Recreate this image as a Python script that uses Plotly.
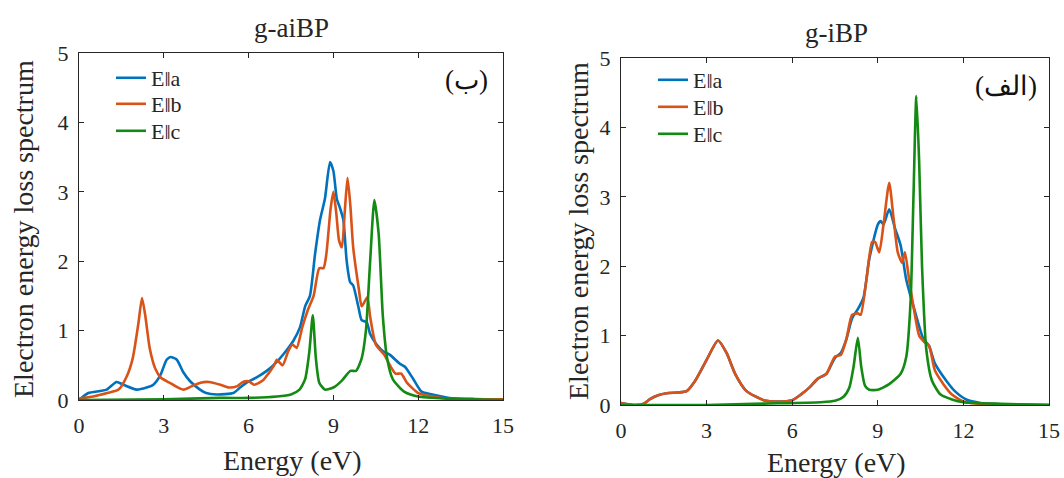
import plotly.graph_objects as go

# ---------------- data: g-aiBP (left panel) ----------------
ai_a_E = [0, 0.33, 0.74, 0.98, 1.33, 1.57, 2.04, 2.39, 2.63, 2.87, 3.1, 3.24, 3.46, 3.69, 3.93, 4.28, 4.5, 4.87,
          5.46, 5.7, 5.93, 6.3, 6.64, 7.0, 7.35, 7.58, 7.82, 8.0, 8.17, 8.35, 8.53, 8.7, 8.88, 9.0, 9.12, 9.23,
          9.35, 9.47, 9.59, 9.7, 9.88, 10.0, 10.18, 10.3, 10.53, 10.77, 11.0, 11.36, 11.53, 11.83, 12.12, 12.5,
          13.1, 14.0, 15.0]
ai_a_L = [0.0, 0.1, 0.13, 0.15, 0.26, 0.22, 0.15, 0.18, 0.22, 0.35, 0.58, 0.62, 0.58, 0.4, 0.27, 0.15, 0.1, 0.08,
          0.1, 0.18, 0.25, 0.33, 0.42, 0.55, 0.72, 0.85, 1.05, 1.35, 1.5, 2.1, 2.6, 2.9, 3.43, 3.3, 2.9, 2.77,
          2.6, 2.0, 1.7, 1.65, 1.35, 1.15, 1.12, 0.95, 0.8, 0.7, 0.65, 0.52, 0.48, 0.3, 0.12, 0.08,
          0.03, 0.015, 0.01]

ai_b_E = [0, 0.5, 1.0, 1.4, 1.7, 1.9, 2.1, 2.23, 2.35, 2.5, 2.7, 2.9, 3.2, 3.5, 3.7, 4.0, 4.3, 4.6, 5.0, 5.3,
          5.6, 5.8, 6.0, 6.2, 6.5, 6.7, 6.9, 7.0, 7.2, 7.4, 7.55, 7.7, 7.9, 8.1, 8.3, 8.5, 8.65, 8.75, 8.9,
          9.0, 9.1, 9.2, 9.3, 9.4, 9.5, 9.6, 9.7, 9.9, 10.0, 10.2, 10.3, 10.5, 10.8, 11.0, 11.2, 11.4, 11.6,
          12.0, 12.5, 13.0, 14.0, 15.0]
ai_b_L = [0.02, 0.05, 0.1, 0.15, 0.35, 0.6, 1.1, 1.47, 1.2, 0.75, 0.45, 0.32, 0.25, 0.18, 0.15, 0.2, 0.25, 0.26,
          0.22, 0.18, 0.2, 0.26, 0.27, 0.22, 0.28, 0.38, 0.5, 0.58, 0.5, 0.7, 0.8, 0.75, 1.05, 1.3, 1.5, 1.9,
          1.9, 2.1, 2.75, 3.0, 2.7, 2.3, 2.2, 2.7, 3.2, 2.8, 2.2, 1.6, 1.35, 1.48, 1.2, 0.8, 0.65, 0.5, 0.38,
          0.38, 0.25, 0.1, 0.05, 0.02, 0.01, 0.01]

ai_c_E = [0, 3, 5, 6, 7, 7.5, 7.8, 8.0, 8.15, 8.27, 8.38, 8.5, 8.7, 9.0, 9.3, 9.6, 9.8, 10.0, 10.15, 10.3,
          10.45, 10.6, 10.75, 10.9, 11.1, 11.5, 12.0, 13.0, 15.0]
ai_c_L = [0.0, 0.01, 0.03, 0.03, 0.05, 0.08, 0.15, 0.3, 0.7, 1.22, 0.6, 0.25, 0.15, 0.18, 0.28, 0.42, 0.42, 0.6,
          1.0, 2.0, 2.88, 2.4, 1.2, 0.6, 0.3, 0.12, 0.05, 0.02, 0.0]

# ---------------- data: g-iBP (right panel) ----------------
i_b_E = [0, 0.5, 0.8, 1.0, 1.3, 1.6, 2.0, 2.3, 2.6, 3.0, 3.4, 3.7, 4.0, 4.4, 5.0, 5.5, 6.0, 6.3, 6.6, 6.9,
         7.2, 7.5, 7.7, 7.9, 8.1, 8.3, 8.4, 8.6, 8.8, 8.9, 9.05, 9.2, 9.4, 9.55, 9.7, 9.85, 9.95, 10.1, 10.3,
         10.45, 10.65, 10.8, 11.0, 11.3, 11.6, 12.0, 12.5, 13.5, 15.0]
i_b_L = [0.03, 0.0, 0.02, 0.08, 0.14, 0.17, 0.18, 0.2, 0.35, 0.65, 0.93, 0.75, 0.45, 0.2, 0.07, 0.05, 0.07, 0.15,
         0.25, 0.38, 0.45, 0.7, 0.72, 0.95, 1.3, 1.32, 1.3, 1.8, 2.35, 2.35, 2.2, 2.6, 3.2, 2.7, 2.2, 2.05,
         2.2, 1.8, 1.3, 1.0, 0.9, 0.85, 0.5, 0.3, 0.15, 0.05, 0.02, 0.01, 0.0]

i_a_E = [0, 0.5, 0.8, 1.0, 1.3, 1.6, 2.0, 2.3, 2.6, 3.0, 3.4, 3.7, 4.0, 4.4, 5.0, 5.5, 6.0, 6.3, 6.6, 6.9,
         7.2, 7.5, 7.7, 7.9, 8.1, 8.3, 8.5, 8.7, 9.0, 9.1, 9.2, 9.4, 9.6, 9.8, 10.0, 10.3, 10.6, 10.8, 11.0,
         11.4, 11.7, 12.1, 12.6, 13.5, 15.0]
i_a_L = [0.03, 0.0, 0.02, 0.08, 0.14, 0.17, 0.18, 0.2, 0.35, 0.65, 0.93, 0.75, 0.45, 0.2, 0.07, 0.05, 0.07, 0.15,
         0.25, 0.38, 0.45, 0.68, 0.75, 0.95, 1.25, 1.38, 1.55, 2.1, 2.6, 2.65, 2.6, 2.82, 2.55, 2.3, 1.8, 1.35,
         0.95, 0.85, 0.6, 0.35, 0.2, 0.08, 0.03, 0.01, 0.0]

i_c_E = [0, 3, 5, 7, 7.5, 7.8, 8.0, 8.15, 8.3, 8.42, 8.55, 8.7, 9.0, 9.4, 9.8, 10.0, 10.15, 10.25, 10.35, 10.45,
         10.55, 10.7, 10.9, 11.2, 11.6, 12.0, 13.0, 15.0]
i_c_L = [0.0, 0.0, 0.02, 0.04, 0.06, 0.12, 0.25, 0.55, 0.97, 0.55, 0.28, 0.22, 0.22, 0.3, 0.45, 0.7, 1.5, 3.0,
         4.45, 3.5, 2.0, 0.8, 0.35, 0.15, 0.08, 0.04, 0.02, 0.0]

series_names = ["E\u2016a", "E\u2016b", "E\u2016c"]
colors = ["#0072BD", "#D95319", "#138A13"]
x_ticks = [0, 3, 6, 9, 12, 15]
y_ticks = [0, 1, 2, 3, 4, 5]
panel_titles = ["g-aiBP", "g-iBP"]
panel_labels = ["(\u0628)", "(\u0627\u0644\u0641)"]
x_title = "Energy (eV)"
y_title = "Electron energy loss spectrum"

W, H = 1064, 478
FONT = "Liberation Serif, Times New Roman, serif"
TXT = "#262626"

def px(x):
    return x / W

def py(y):
    return 1 - y / H

fig = go.Figure()

left = [(ai_a_E, ai_a_L), (ai_b_E, ai_b_L), (ai_c_E, ai_c_L)]
right = [(i_a_E, i_a_L), (i_b_E, i_b_L), (i_c_E, i_c_L)]

# one legend per entry so the row spacing can match the reference
left_rows = [78, 104, 131]
right_rows = [80, 107, 134]
legend_layout = {}
for k, (xs, ys) in enumerate(left):
    lname = "legend" if k == 0 else f"legend{k + 1}"
    fig.add_trace(go.Scatter(x=xs, y=ys, mode="lines", name=series_names[k],
                             line=dict(color=colors[k], width=2.6, shape="spline", smoothing=0.6),
                             xaxis="x", yaxis="y", legend=lname))
    legend_layout[lname] = dict(x=px(111), y=py(left_rows[k]), xanchor="left", yanchor="middle",
                                bgcolor="rgba(0,0,0,0)", borderwidth=0,
                                font=dict(family=FONT, size=22, color=TXT))
for k, (xs, ys) in enumerate(right):
    lname = f"legend{k + 4}"
    fig.add_trace(go.Scatter(x=xs, y=ys, mode="lines", name=series_names[k],
                             line=dict(color=colors[k], width=2.6, shape="spline", smoothing=0.6),
                             xaxis="x2", yaxis="y2", legend=lname))
    legend_layout[lname] = dict(x=px(653), y=py(right_rows[k]), xanchor="left", yanchor="middle",
                                bgcolor="rgba(0,0,0,0)", borderwidth=0,
                                font=dict(family=FONT, size=22, color=TXT))

axis_common = dict(showline=True, linecolor=TXT, linewidth=1, mirror="ticks", ticks="inside",
                   ticklen=5, tickwidth=1, tickcolor=TXT, showgrid=False, zeroline=False,
                   automargin=False, tickfont=dict(family=FONT, size=22, color=TXT))

L_box = (79, 503, 53, 400)
R_box = (621, 1049, 58, 405)

fig.update_layout(
    template="none",
    width=W, height=H, margin=dict(l=0, r=0, t=0, b=0, autoexpand=False),
    paper_bgcolor="white", plot_bgcolor="white",
    xaxis=dict(domain=[px(L_box[0]), px(L_box[1])], range=[0, 15], tickvals=x_ticks,
               anchor="y", ticklabelstandoff=6, **axis_common),
    yaxis=dict(domain=[py(L_box[3]), py(L_box[2])], range=[0, 5], tickvals=y_ticks,
               anchor="x", ticklabelstandoff=5, **axis_common),
    xaxis2=dict(domain=[px(R_box[0]), px(R_box[1])], range=[0, 15], tickvals=x_ticks,
                anchor="y2", ticklabelstandoff=6, **axis_common),
    yaxis2=dict(domain=[py(R_box[3]), py(R_box[2])], range=[0, 5], tickvals=y_ticks,
                anchor="x2", ticklabelstandoff=5, **axis_common),
    showlegend=True,
    **legend_layout,
)

def note(text, x, y, size, angle=0, color=TXT):
    return dict(text=text, x=px(x), y=py(y), xref="paper", yref="paper", xanchor="center",
                yanchor="middle", textangle=angle, showarrow=False,
                font=dict(family=FONT, size=size, color=color))

ann = [
    note(panel_titles[0], 291, 28, 27),
    note(panel_titles[1], 836, 33, 27),
    note(x_title, 292, 460, 28),
    note(x_title, 836, 462, 28),
    note(y_title, 23, 229, 28, angle=-90),
    note(y_title, 579, 231, 28, angle=-90),
    note(panel_labels[0], 466, 80, 27, color="#111111"),
    note(panel_labels[1], 1006, 86, 27, color="#111111"),
]
fig.update_layout(annotations=ann)

fig.write_html("out.html", config={"displayModeBar": False},
               post_script="document.body.style.margin='0';document.body.style.padding='0';"
                           "document.documentElement.style.overflow='hidden';")
